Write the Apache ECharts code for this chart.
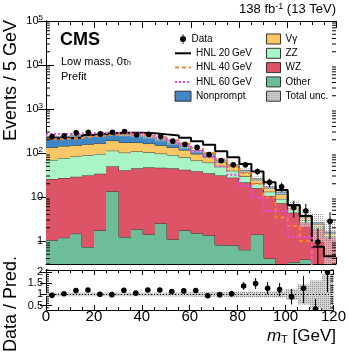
<!DOCTYPE html>
<html><head><meta charset="utf-8">
<script src="https://cdn.jsdelivr.net/npm/echarts@6/dist/echarts.min.js"></script>
<style>html,body{margin:0;padding:0;background:#fff}#c{width:349px;height:352px}</style>
</head><body><div id="c"></div>
<script>
// ---- data (bins of 5 GeV from 0 to 120) ----
var binEdges = [0,5,10,15,20,25,30,35,40,45,50,55,60,65,70,75,80,85,90,95,100,105,110,115,120];
var other     = [1.04,1.19,1.47,0.73,1.75,13.4,1.23,1.85,1.42,2.5,1.09,1.75,1.5,1.35,0.81,0.8,0.63,1.4,0.4,0.01,0.33,0.38,0.01,0.01];
var wz        = [24.6,25.8,27.4,30.2,32,36.1,39.1,43,45.7,43.8,43.7,39.8,36.8,33.2,30,26.7,20.9,14.5,10.2,7.24,4.07,2.22,1.84,1.19];
var zz        = [43.9,50,54.1,59.1,61.3,63.5,61.7,63.2,56.9,50.7,45.2,38.5,29,26,18,12,8,4.5,2.6,1.8,0.8,0.4,0.25,0.1];
var vgamma    = [64.5,67,67,68,71,79,71,65,60,53,44,37,28,22,14,10,7,4,2.6,2.5,1.0,0.5,0.3,0.2];
var nonprompt = [106,96,100,97,102,103,89,75,64,50,34,21,18.7,13.5,7.2,4.5,3.5,1.6,1.2,1.45,0.4,0.3,0.2,0.1];
var totalUnc  = [0.08,0.08,0.08,0.08,0.08,0.08,0.08,0.08,0.08,0.08,0.09,0.09,0.1,0.1,0.1,0.11,0.12,0.13,0.13,0.14,0.25,0.45,0.63,0.9];
var hnl20     = [215,215,225,255,270,285,290,290,280,265,250,222,186,154,109,80,56,38,21.5,14.4,6.6,3.7,0.74,0.45];
var hnl40     = [205,210,220,240,250,260,265,260,245,225,195,165,130,100,70,50,35,20,9.7,3.4,2.2,1.0,0.1,0.1];
var hnl60     = [270,270,275,280,285,290,285,275,255,225,190,150,110,80,50,32,18,9.7,4.8,4.8,1.23,1.23,0.1,0.1];
var dataY     = [236,245,287,297,272,297,307,260,266,236,186,158,134,92,67,54,54,38,21.5,17,5.8,4.8,0.95,2.8];
var dataErr   = [15,16,17,17,16,17,17,16,16,15,14,12,11,9.6,8.2,7.3,7.3,6.2,4.6,4.1,2.4,2.2,1.0,1.7];
var ratioY    = [0.96,1.03,1.18,1.2,1.01,0.99,1.19,1.06,1.2,1.2,1.13,1.16,1.18,0.94,0.99,1.03,1.38,1.49,1.28,1.22,0.9,1.28,0.34,2.0];
var ratioErrUp= [0.07,0.07,0.07,0.07,0.07,0.07,0.07,0.07,0.07,0.07,0.08,0.09,0.1,0.1,0.12,0.14,0.18,0.25,0.28,0.3,0.35,0.55,0.45,1.1];
var ratioErrDn= [0.07,0.07,0.07,0.07,0.07,0.07,0.07,0.07,0.07,0.07,0.08,0.09,0.1,0.1,0.12,0.14,0.18,0.25,0.28,0.3,0.35,0.67,0.34,0.9];
var yTickVals = [1,10,100,1000,10000,100000];
var yTickLabels = ['1','10','10{s|2}','10{s|3}','10{s|4}','10{s|5}'];
var xTickLabels = ['0','20','40','60','80','100','120'];
var ratioTickVals = [0.5,1,1.5,2];
var ratioTickLabels = ['0.5','1','1.5','2'];

var YMIN = 0.3, YMAX = 1e5, RMIN = 0.3, RMAX = 2.1;
var colors = {other:'#6dbd99', wz:'#de5467', zz:'#a9f5c5', vgamma:'#fcc865', nonprompt:'#3f86c4'};

function hatch(bg, dot){
  var c = document.createElement('canvas'); c.width = 4; c.height = 4;
  var g = c.getContext('2d');
  if (bg) { g.fillStyle = bg; g.fillRect(0,0,4,4); }
  g.fillStyle = dot;
  g.fillRect(0,0,1,1); g.fillRect(2,2,1,1); g.fillRect(2,0,1,1); g.fillRect(0,2,1,1);
  return c;
}
var hatchImg = hatch(null, 'rgba(110,110,110,0.7)');
var hatchImgRatio = hatch('#d6d6d6', 'rgba(120,120,120,0.8)');

var layers = [['Other',other,colors.other],['WZ',wz,colors.wz],['ZZ',zz,colors.zz],['V\u03b3',vgamma,colors.vgamma],['Nonprompt',nonprompt,colors.nonprompt]];
var cum = []; var prev = binEdges.slice(0,-1).map(function(){return 0;});
layers.forEach(function(L){
  var lo = prev.slice(); var hi = lo.map(function(v,i){return v + L[1][i];});
  cum.push({name:L[0], color:L[2], lo:lo, hi:hi}); prev = hi;
});
var total = prev;

function stackSeries(layer){
  var d = [];
  for (var i=0;i<layer.hi.length;i++){
    var nxt = i+1<layer.hi.length ? layer.hi[i+1] : -1;
    d.push([binEdges[i], binEdges[i+1], Math.max(layer.lo[i],1e-3), layer.hi[i], nxt]);
  }
  return {
    name: layer.name, type:'custom', xAxisIndex:0, yAxisIndex:0, clip:true,
    itemStyle:{color:layer.color, borderColor:'#333', borderWidth:1},
    renderItem:function(params, api){
      var x0=api.value(0), x1=api.value(1), lo=api.value(2), hi=api.value(3), nx=api.value(4);
      var p0 = api.coord([x0, hi]), p1 = api.coord([x1, lo]);
      var X0 = Math.round(p0[0]), X1 = Math.round(p1[0]);
      var children = [{type:'rect', shape:{x:X0, y:p0[1], width:X1-X0, height:p1[1]-p0[1]}, style:{fill:layer.color}}];
      var pts = [[X0,p0[1]],[X1,p0[1]]];
      if (nx > 0) { var pn = api.coord([x1, nx]); pts.push([X1, pn[1]]); }
      children.push({type:'polyline', shape:{points:pts}, style:{stroke:'#333', lineWidth:1, fill:null}});
      return {type:'group', children:children};
    },
    data:d, z:2
  };
}

function stepData(vals){
  var d = vals.map(function(v,i){return [binEdges[i], v];});
  d.push([binEdges[binEdges.length-1], vals[vals.length-1]]);
  return d;
}

var minorY = [];
for (var e=-1;e<5;e++) for (var m=2;m<=9;m++){ var v=m*Math.pow(10,e); if (v>YMIN && v<YMAX) minorY.push([v]); }
var minorR = [];
for (var r=4;r<=21;r++){ if (r%5!==0) minorR.push([r/10]); }

var series = [];
cum.forEach(function(L){ series.push(stackSeries(L)); });

series.push({
  name:'Total unc.', type:'custom', xAxisIndex:0, yAxisIndex:0, clip:true,
  itemStyle:{color:{image:hatchImgRatio, repeat:'repeat'}, borderColor:'#ccc', borderWidth:0.5},
  renderItem:function(params, api){
    var p0 = api.coord([api.value(0), api.value(3)]), p1 = api.coord([api.value(1), api.value(2)]);
    var X0 = Math.round(p0[0]), X1 = Math.round(p1[0]);
    return {type:'group', children:[
      {type:'rect', shape:{x:X0, y:p0[1], width:X1-X0, height:p1[1]-p0[1]}, style:{fill:'rgba(255,255,255,0.45)'}},
      {type:'rect', shape:{x:X0, y:p0[1], width:X1-X0, height:p1[1]-p0[1]}, style:{fill:{image:hatchImg, repeat:'repeat'}}}
    ]};
  },
  data: total.map(function(t,i){return [binEdges[i], binEdges[i+1], Math.max(t*(1-totalUnc[i]),1e-3), t*(1+totalUnc[i])];}),
  z:3
});

var noSym = {opacity:0};
series.push({name:'HNL 20\u2009GeV', type:'line', step:'end', symbol:'none', xAxisIndex:0, yAxisIndex:0, data:stepData(hnl20), lineStyle:{color:'#000', width:2}, itemStyle:{color:'#000'}, z:5, clip:true});
series.push({name:'HNL 40\u2009GeV', type:'line', step:'end', symbol:'none', xAxisIndex:0, yAxisIndex:0, data:stepData(hnl40), lineStyle:{color:'#f5862d', width:2, type:[4,3]}, itemStyle:{color:'#f5862d'}, z:5, clip:true});
series.push({name:'HNL 60\u2009GeV', type:'line', step:'end', symbol:'none', xAxisIndex:0, yAxisIndex:0, data:stepData(hnl60), lineStyle:{color:'#ee44e8', width:2, type:[2,2]}, itemStyle:{color:'#ee44e8'}, z:5, clip:true});

series.push({
  name:'Data', type:'custom', xAxisIndex:0, yAxisIndex:0, clip:true, itemStyle:{color:'#000'},
  renderItem:function(params, api){
    var x = api.value(0), y = api.value(1), er = api.value(2);
    var c = api.coord([x,y]), a = api.coord([x, y+er]), b = api.coord([x, Math.max(y-er,1e-3)]);
    return {type:'group', children:[
      {type:'line', shape:{x1:c[0], y1:a[1], x2:c[0], y2:b[1]}, style:{stroke:'#000', lineWidth:1}},
      {type:'circle', shape:{cx:c[0], cy:c[1], r:2.8}, style:{fill:'#000'}}
    ]};
  },
  data: dataY.map(function(v,i){return [(binEdges[i]+binEdges[i+1])/2, v, dataErr[i]];}), z:10
});

series.push({
  type:'custom', xAxisIndex:0, yAxisIndex:0, silent:true, clip:false,
  renderItem:function(params, api){
    var p = api.coord([0, api.value(0)]), q = api.coord([120, api.value(0)]);
    return {type:'group', children:[
      {type:'line', shape:{x1:p[0], y1:p[1], x2:p[0]+4, y2:p[1]}, style:{stroke:'#000', lineWidth:1}},
      {type:'line', shape:{x1:q[0], y1:q[1], x2:q[0]-4, y2:q[1]}, style:{stroke:'#000', lineWidth:1}}
    ]};
  },
  data:minorY, z:20
});

// ratio panel
series.push({
  type:'custom', xAxisIndex:1, yAxisIndex:1, clip:true, silent:true,
  renderItem:function(params, api){
    var p0 = api.coord([api.value(0), api.value(3)]), p1 = api.coord([api.value(1), api.value(2)]);
    var X0 = Math.round(p0[0]), X1 = Math.round(p1[0]);
    return {type:'rect', shape:{x:X0, y:p0[1], width:X1-X0, height:p1[1]-p0[1]}, style:{fill:{image:hatchImgRatio, repeat:'repeat'}}};
  },
  data: totalUnc.map(function(u,i){return [binEdges[i], binEdges[i+1], 1-u, 1+u];}), z:2
});
series.push({
  type:'line', xAxisIndex:1, yAxisIndex:1, symbol:'none', silent:true,
  data:[[0,1],[120,1]], lineStyle:{color:'#000', width:1, type:[1,2]}, z:3
});
series.push({
  type:'custom', xAxisIndex:1, yAxisIndex:1, silent:true, clip:false,
  renderItem:function(params, api){
    var p = api.coord([0, api.value(0)]), q = api.coord([120, api.value(0)]);
    return {type:'group', children:[
      {type:'line', shape:{x1:p[0], y1:p[1], x2:p[0]+3, y2:p[1]}, style:{stroke:'#000', lineWidth:1}},
      {type:'line', shape:{x1:q[0], y1:q[1], x2:q[0]-3, y2:q[1]}, style:{stroke:'#000', lineWidth:1}}
    ]};
  },
  data:minorR, z:20
});
series.push({
  type:'custom', xAxisIndex:1, yAxisIndex:1, clip:true,
  renderItem:function(params, api){
    var x = api.value(0), y = api.value(1);
    var c = api.coord([x,y]), a = api.coord([x, y+api.value(2)]), b = api.coord([x, y-api.value(3)]);
    return {type:'group', children:[
      {type:'line', shape:{x1:c[0], y1:a[1], x2:c[0], y2:b[1]}, style:{stroke:'#000', lineWidth:1}},
      {type:'circle', shape:{cx:c[0], cy:c[1], r:2.8}, style:{fill:'#000'}}
    ]};
  },
  data: ratioY.map(function(v,i){return [(binEdges[i]+binEdges[i+1])/2, v, ratioErrUp[i], ratioErrDn[i]];}), z:10
});

var FONT = 'Liberation Sans, Arial, Helvetica, sans-serif';
var axisLine = {show:true, lineStyle:{color:'#000', width:1}};
var xTickCommon = {inside:true, length:7, lineStyle:{color:'#000'}};
var xMinor = {show:true, splitNumber:4, length:4, lineStyle:{color:'#000'}};
var chart = echarts.init(document.getElementById('c'), null, {renderer:'canvas'});
chart.setOption({
  animation:false,
  textStyle:{fontFamily:FONT},
  grid:[
    {left:46, top:21, width:290, height:243},
    {left:46, top:270, width:290, height:40}
  ],
  xAxis:[
    {gridIndex:0, type:'value', min:0, max:120, interval:20, axisLine:axisLine, axisLabel:{show:false}, splitLine:{show:false}, axisTick:xTickCommon, minorTick:xMinor},
    {gridIndex:1, type:'value', min:0, max:120, interval:20, axisLine:axisLine, splitLine:{show:false}, axisTick:{inside:true, length:5, lineStyle:{color:'#000'}}, minorTick:{show:true, splitNumber:4, length:3, lineStyle:{color:'#000'}},
     axisLabel:{fontSize:15, color:'#000', margin:-1, fontFamily:FONT, formatter:function(v){return xTickLabels[v/20];}}},
    {gridIndex:0, type:'value', position:'top', min:0, max:120, interval:20, axisLine:axisLine, axisLabel:{show:false}, splitLine:{show:false}, axisTick:xTickCommon, minorTick:xMinor},
    {gridIndex:1, type:'value', position:'top', min:0, max:120, interval:20, axisLine:axisLine, axisLabel:{show:false}, splitLine:{show:false},
     axisTick:{inside:true, length:5, lineStyle:{color:'#000'}}, minorTick:{show:true, splitNumber:4, length:3, lineStyle:{color:'#000'}}}
  ],
  yAxis:[
    {gridIndex:0, type:'log', min:YMIN, max:YMAX, logBase:10, axisLine:axisLine, splitLine:{show:false},
     axisTick:{inside:true, length:8, lineStyle:{color:'#000'}, customValues:yTickVals},
     axisLabel:{fontSize:11, color:'#000', margin:3, fontFamily:FONT, customValues:yTickVals,
       formatter:function(v){ var k = yTickVals.indexOf(Math.round(v)); return k>=0 ? yTickLabels[k] : ''; },
       rich:{s:{fontSize:8, verticalAlign:'top', padding:[0,0,6,0], fontFamily:FONT}}}},
    {gridIndex:1, type:'value', min:RMIN, max:RMAX, axisLine:axisLine, splitLine:{show:false},
     axisTick:{inside:true, length:6, lineStyle:{color:'#000'}, customValues:ratioTickVals},
     axisLabel:{fontSize:11, color:'#000', margin:3, fontFamily:FONT, customValues:ratioTickVals,
       formatter:function(v){var k=ratioTickVals.indexOf(Math.round(v*10)/10); return k>=0?ratioTickLabels[k]:'';}}},
    {gridIndex:0, type:'log', position:'right', min:YMIN, max:YMAX, logBase:10, axisLine:axisLine, splitLine:{show:false},
     axisTick:{inside:true, length:8, lineStyle:{color:'#000'}, customValues:yTickVals}, axisLabel:{show:false}},
    {gridIndex:1, type:'value', position:'right', min:RMIN, max:RMAX, axisLine:axisLine, splitLine:{show:false},
     axisTick:{inside:true, length:6, lineStyle:{color:'#000'}, customValues:ratioTickVals}, axisLabel:{show:false}}
  ],
  legend:[
    {data:[{name:'Data', icon:'path://M2.6,0H3.4V10H2.6Z M6,5A3,3,0,1,1,0,5A3,3,0,1,1,6,5Z'}], left:180, top:33, padding:0, orient:'vertical', itemWidth:7, itemHeight:10, itemGap:2,
     textStyle:{fontSize:10, color:'#000', fontFamily:FONT, lineHeight:12}, selectedMode:false},
    {data:[{name:'HNL 20\u2009GeV', itemStyle:noSym},{name:'HNL 40\u2009GeV', itemStyle:noSym},{name:'HNL 60\u2009GeV', itemStyle:noSym},{name:'Nonprompt', icon:'rect', itemStyle:{borderColor:'#333', borderWidth:1}}],
     left:174, top:47.3, padding:0, orient:'vertical', itemWidth:16, itemHeight:10, itemGap:2.3,
     textStyle:{fontSize:10, color:'#000', fontFamily:FONT, lineHeight:12}, selectedMode:false},
    {data:['V\u03b3','ZZ','WZ','Other','Total unc.'], left:266, top:33, padding:0, orient:'vertical', itemWidth:14, itemHeight:10, itemGap:2.3, icon:'rect',
     itemStyle:{borderColor:'#333', borderWidth:1},
     textStyle:{fontSize:10, color:'#000', fontFamily:FONT, lineHeight:12}, selectedMode:false}
  ],
  graphic:[
    {type:'text', left:60, top:31, style:{text:'CMS', font:'bold 18px '+FONT, fill:'#000'}},
    {type:'text', left:61, top:56, style:{text:'Low mass, 0\u03c4{h|h}', rich:{h:{fontSize:7, verticalAlign:'bottom', padding:[4,0,0,0]}}, font:'11px '+FONT, fill:'#000'}},
    {type:'text', left:61, top:71, style:{text:'Prefit', font:'11px '+FONT, fill:'#000'}},
    {type:'text', right:13, top:2, style:{text:'138 fb{s|-1} (13 TeV)', font:'13px '+FONT, fill:'#000', rich:{s:{fontSize:9, verticalAlign:'top', padding:[0,0,5,0]}}}},
    {type:'text', x:11, y:20, rotation:Math.PI/2, style:{text:'Events / 5 GeV', font:'18px '+FONT, fill:'#000', align:'right', verticalAlign:'middle'}},
    {type:'text', x:11, y:256, rotation:Math.PI/2, style:{text:'Data / Pred.', font:'18px '+FONT, fill:'#000', align:'right', verticalAlign:'middle'}},
    {type:'text', right:13, top:328, style:{text:'{i|m}{t|T} [GeV]', font:'17px '+FONT, fill:'#000', rich:{i:{fontStyle:'italic', fontSize:17}, t:{fontSize:11, verticalAlign:'bottom', padding:[6,0,0,0]}}}}
  ],
  series:series
});
</script></body></html>
